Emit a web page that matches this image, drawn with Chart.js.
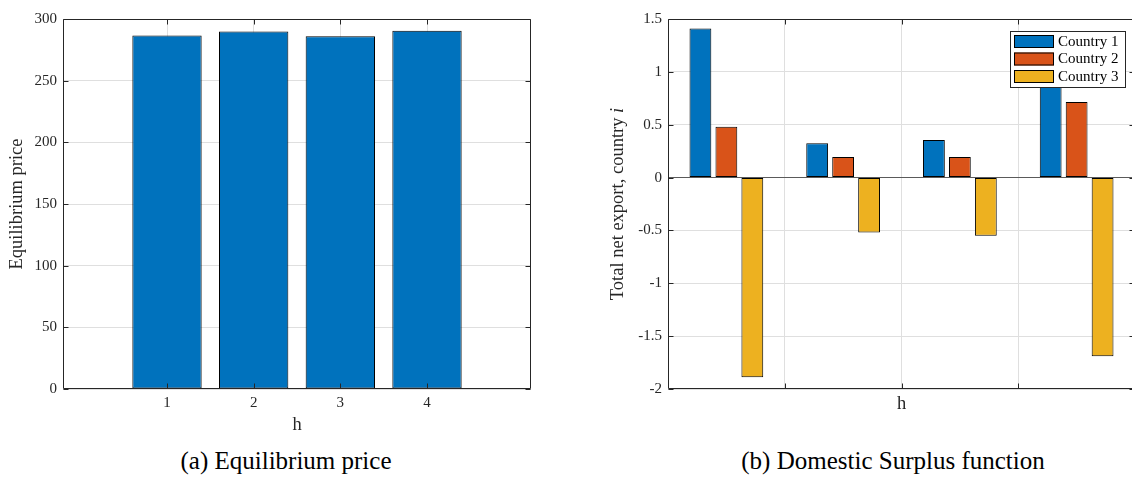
<!DOCTYPE html>
<html>
<head>
<meta charset="utf-8">
<script src="https://cdn.jsdelivr.net/npm/chart.js@4"></script>
<style>
  html, body { margin: 0; padding: 0; background: #fff; overflow: hidden; }
  #fig { position: relative; width: 1132px; height: 479px; overflow: hidden; background: #fff; }
  #fig canvas { position: absolute; top: 0; }
  #priceCanvas { left: 0; }
  #exportCanvas { left: 600px; }
  .cap {
    position: absolute; top: 446px; line-height: 30px; white-space: nowrap;
    font-family: "Liberation Serif", "Times New Roman", serif; font-size: 25px; color: #000;
    transform: translateX(-50%);
  }
</style>
</head>
<body>
<div id="fig">
  <canvas id="priceCanvas" width="566" height="440"></canvas>
  <canvas id="exportCanvas" width="546" height="440"></canvas>
  <div class="cap" style="left:286px">(a) Equilibrium price</div>
  <div class="cap" style="left:893px">(b) Domestic Surplus function</div>
</div>
<script>
// ---- data ----
const hValues = [1, 2, 3, 4];
const equilibriumPrice = [286.6, 289.9, 286.1, 290.4];
const priceTicks = [0, 50, 100, 150, 200, 250, 300];

const countryNames = ['Country 1', 'Country 2', 'Country 3'];
const netExportC1 = [1.41, 0.325, 0.355, 0.975];
const netExportC2 = [0.48, 0.195, 0.195, 0.715];
const netExportC3 = [-1.89, -0.52, -0.55, -1.69];
const exportTicks = [-2, -1.5, -1, -0.5, 0, 0.5, 1, 1.5];
const groupDividers = [1.5, 2.5, 3.5];

// ---- styling ----
const SERIF = '"Liberation Serif", "Times New Roman", serif';
const AXIS_COLOR = '#262626';
const GRID_COLOR = '#dfdfdf';
const BAR_COLORS = ['#0072BD', '#D95319', '#EDB120'];
const TICK_SIZE = 15;
const LABEL_SIZE = 18.5;

Chart.defaults.font.family = SERIF;
Chart.defaults.color = AXIS_COLOR;
Chart.defaults.animation = false;

const toPoints = (xs, ys) => xs.map((x, i) => ({ x: x, y: ys[i] }));
const fixedTicks = values => axis => { axis.ticks = values.map(v => ({ value: v })); };

// Box around the plot area with short inward tick marks on all four sides
const axesBox = {
  id: 'axesBox',
  afterDatasetsDraw(chart) {
    const { ctx, chartArea: a, scales } = chart;
    const L = Math.round(a.left) + 0.5, R = Math.round(a.right) - 0.5;
    const T = Math.round(a.top) + 0.5, B = Math.round(a.bottom) - 0.5;
    const len = 5;
    ctx.save();
    ctx.strokeStyle = AXIS_COLOR;
    ctx.lineWidth = 1;
    ctx.beginPath();
    ctx.rect(L, T, R - L, B - T);
    scales.x.ticks.forEach(t => {
      const px = Math.round(scales.x.getPixelForValue(t.value)) + 0.5;
      ctx.moveTo(px, B); ctx.lineTo(px, B - len);
      ctx.moveTo(px, T); ctx.lineTo(px, T + len);
    });
    scales.y.ticks.forEach(t => {
      const py = Math.round(scales.y.getPixelForValue(t.value)) + 0.5;
      ctx.moveTo(L, py); ctx.lineTo(L + len, py);
      ctx.moveTo(R, py); ctx.lineTo(R - len, py);
    });
    ctx.stroke();
    ctx.restore();
  }
};

// Boxed legend drawn inside the plot area, built from the dataset labels/colours
const boxLegend = {
  id: 'boxLegend',
  afterDraw(chart, args, o) {
    const { ctx } = chart;
    const ds = chart.data.datasets;
    ctx.save();
    ctx.fillStyle = '#fff';
    ctx.fillRect(o.x, o.y, o.width, o.height);
    ctx.strokeStyle = AXIS_COLOR;
    ctx.lineWidth = 1;
    ctx.strokeRect(o.x + 0.5, o.y + 0.5, o.width - 1, o.height - 1);
    ctx.font = `${o.fontSize}px ${SERIF}`;
    ctx.textBaseline = 'middle';
    ds.forEach((d, i) => {
      const top = o.y + o.firstRow + i * o.rowStep;
      ctx.fillStyle = d.backgroundColor;
      ctx.fillRect(o.x + 4, top, o.swatchW, o.swatchH);
      ctx.strokeStyle = '#000';
      ctx.strokeRect(o.x + 4.5, top + 0.5, o.swatchW - 1, o.swatchH - 1);
      ctx.fillStyle = '#000';
      ctx.fillText(d.label, o.x + o.swatchW + 8, top + o.swatchH / 2 + 0.5);
    });
    ctx.restore();
  }
};

// Rotated y-axis title with an italic trailing symbol
const richYTitle = {
  id: 'richYTitle',
  afterDraw(chart, args, o) {
    const { ctx, chartArea: a } = chart;
    const plain = `${o.size}px ${SERIF}`;
    const ital = `italic ${o.size}px ${SERIF}`;
    ctx.save();
    ctx.font = plain; const w1 = ctx.measureText(o.text).width;
    ctx.font = ital; const w2 = ctx.measureText(o.italic).width;
    ctx.translate(o.x, (a.top + a.bottom) / 2);
    ctx.rotate(-Math.PI / 2);
    ctx.textBaseline = 'middle';
    ctx.fillStyle = AXIS_COLOR;
    const x0 = -(w1 + w2) / 2;
    ctx.font = plain; ctx.fillText(o.text, x0, 0);
    ctx.font = ital; ctx.fillText(o.italic, x0 + w1, 0);
    ctx.restore();
  }
};

// ---- (a) equilibrium price ----
new Chart(document.getElementById('priceCanvas'), {
  type: 'bar',
  data: {
    datasets: [{
      label: 'Equilibrium price',
      data: toPoints(hValues, equilibriumPrice),
      backgroundColor: BAR_COLORS[0],
      borderColor: '#000',
      borderWidth: 1,
      borderSkipped: false,
      barPercentage: 0.8,
      categoryPercentage: 1
    }]
  },
  options: {
    responsive: false,
    devicePixelRatio: 1,
    layout: { padding: { top: 19, right: 35, left: 0, bottom: 0 } },
    plugins: { legend: { display: false }, tooltip: { enabled: false } },
    scales: {
      x: {
        type: 'linear', min: -0.2, max: 5.2, offset: false,
        afterBuildTicks: fixedTicks(hValues),
        afterFit: s => { s.height = 51; },
        grid: { color: GRID_COLOR, drawTicks: false, offset: false },
        border: { display: false },
        ticks: { font: { size: TICK_SIZE }, padding: 5, callback: v => String(v) },
        title: { display: true, text: 'h', font: { size: LABEL_SIZE }, padding: { top: 0, bottom: 4 } }
      },
      y: {
        min: 0, max: 300,
        afterBuildTicks: fixedTicks(priceTicks),
        afterFit: s => { s.width = 63; },
        grid: { color: GRID_COLOR, drawTicks: false },
        border: { display: false },
        ticks: { font: { size: TICK_SIZE }, padding: 6, callback: v => String(v) },
        title: { display: true, text: 'Equilibrium price', font: { size: LABEL_SIZE }, padding: { top: 6, bottom: 0 } }
      }
    }
  },
  plugins: [axesBox]
});

// ---- (b) total net export per country ----
const exportSeries = [netExportC1, netExportC2, netExportC3];
new Chart(document.getElementById('exportCanvas'), {
  type: 'bar',
  data: {
    datasets: exportSeries.map((vals, i) => ({
      label: countryNames[i],
      data: toPoints(hValues, vals),
      backgroundColor: BAR_COLORS[i],
      borderColor: '#000',
      borderWidth: 1,
      borderSkipped: false,
      barPercentage: 0.84,
      categoryPercentage: 0.667
    }))
  },
  options: {
    responsive: false,
    devicePixelRatio: 1,
    layout: { padding: { top: 19, right: 11, left: 0, bottom: 0 } },
    plugins: {
      legend: { display: false },
      tooltip: { enabled: false },
      boxLegend: { x: 410, y: 31, width: 116, height: 57, firstRow: 4, rowStep: 17.5, swatchW: 40, swatchH: 13, fontSize: 15 },
      richYTitle: { x: 18, size: LABEL_SIZE, text: 'Total net export, country ', italic: 'i' }
    },
    scales: {
      x: {
        type: 'linear', min: 0.5, max: 4.5, offset: false,
        afterBuildTicks: fixedTicks(groupDividers),
        afterFit: s => { s.height = 51; },
        grid: { color: GRID_COLOR, drawTicks: false, offset: false },
        border: { display: false },
        ticks: { font: { size: TICK_SIZE }, padding: 5, callback: () => '' },
        title: { display: true, text: 'h', font: { size: LABEL_SIZE }, padding: { top: 0, bottom: 25 } }
      },
      y: {
        min: -2, max: 1.5,
        afterBuildTicks: fixedTicks(exportTicks),
        afterFit: s => { s.width = 68; },
        grid: { color: c => (c.tick && c.tick.value === 0) ? '#5a5a5a' : GRID_COLOR, drawTicks: false },
        border: { display: false },
        ticks: { font: { size: TICK_SIZE }, padding: 6, callback: v => String(v) },
        title: { display: false }
      }
    }
  },
  plugins: [axesBox, boxLegend, richYTitle]
});
</script>
</body>
</html>
